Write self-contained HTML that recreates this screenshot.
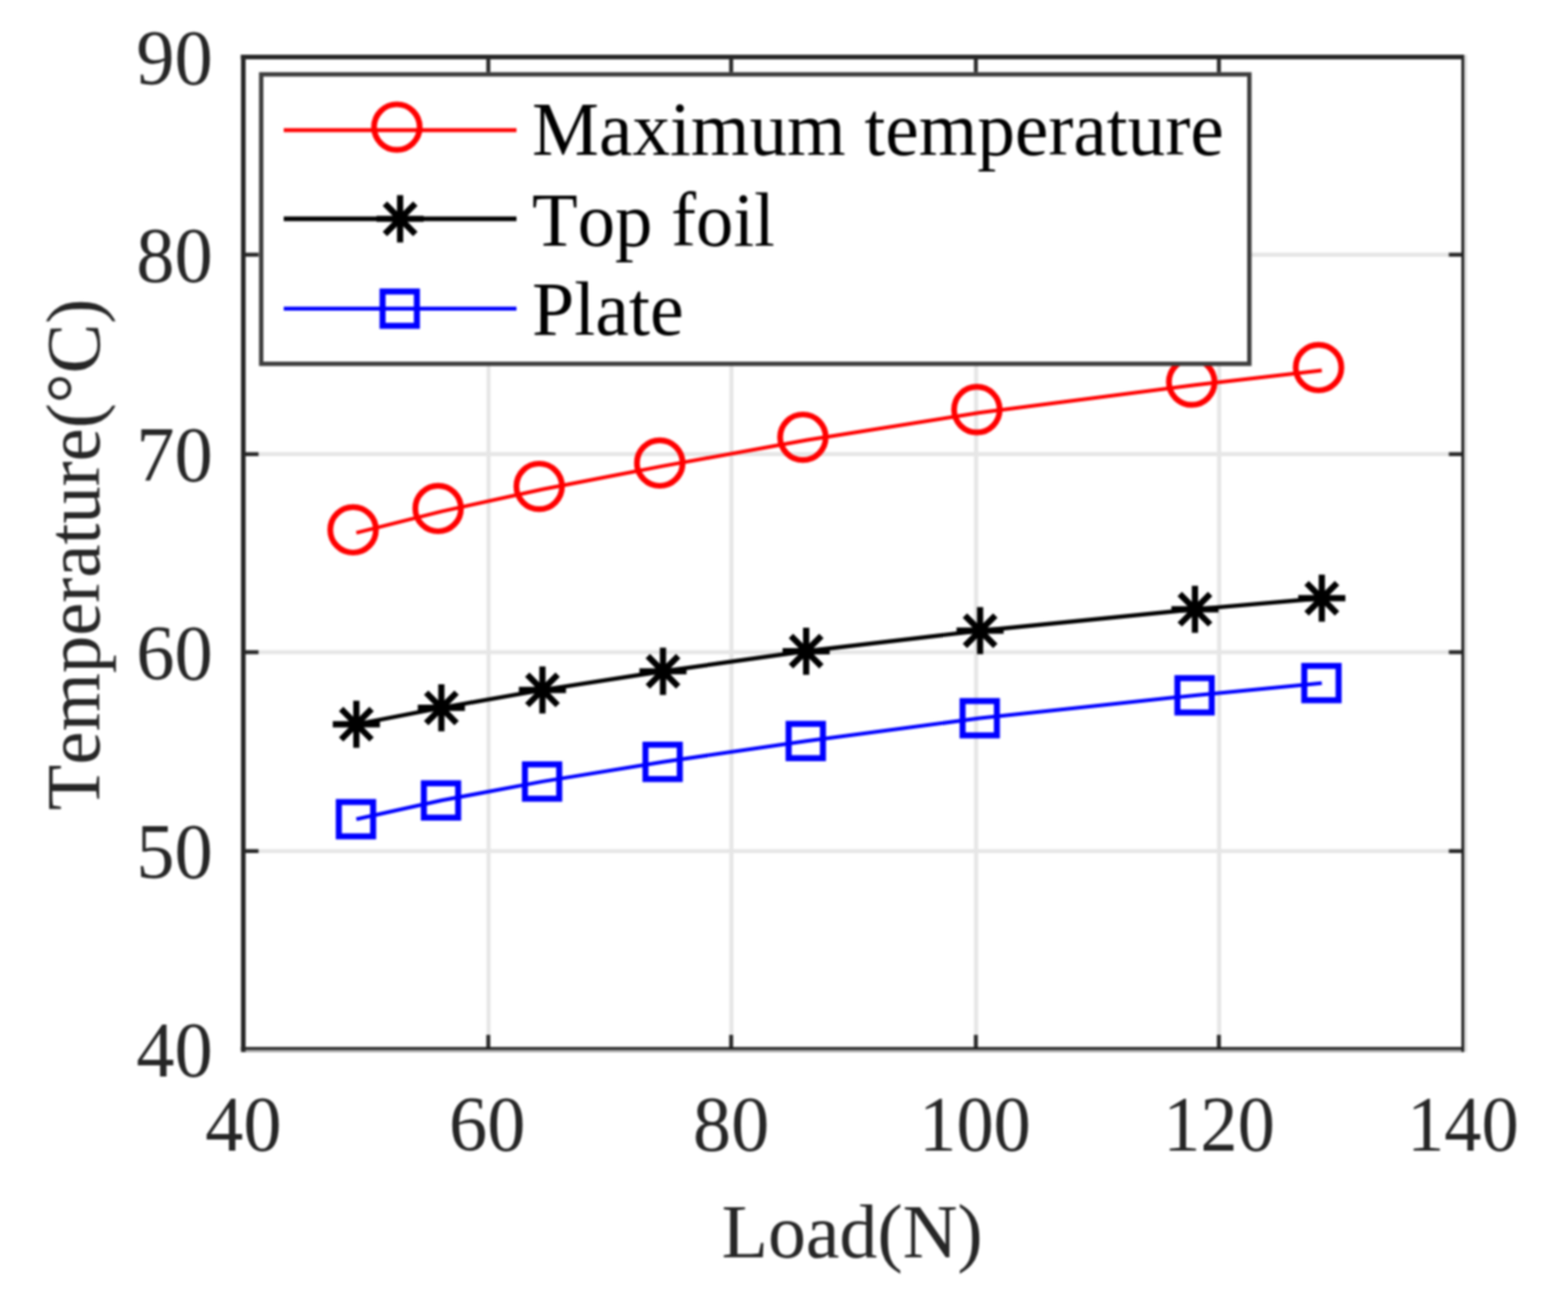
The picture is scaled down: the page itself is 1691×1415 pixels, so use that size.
<!DOCTYPE html>
<html lang="en">
<head>
<meta charset="utf-8">
<title>Temperature vs Load</title>
<style>
html,body{margin:0;padding:0;background:#fff;}
body{width:1691px;height:1415px;overflow:hidden;}
svg{display:block;filter:blur(0.8px);}
text{font-family:"Liberation Serif","Times New Roman",serif;font-kerning:none;font-variant-ligatures:none;}
.tk{font-size:83.6px;fill:#262626;}
.lb{font-size:83.5px;fill:#262626;}
.lg{font-size:82.5px;fill:#000;}
</style>
</head>
<body>
<svg role="img" aria-label="Temperature versus load chart" width="1691" height="1415" viewBox="0 0 1691 1415">
<rect x="0" y="0" width="1691" height="1415" fill="#ffffff"/>
<g stroke="#e6e6e6" stroke-width="4.4" fill="none">
<line x1="526.9" y1="61.45" x2="526.9" y2="1131.6"/>
<line x1="788.8" y1="61.45" x2="788.8" y2="1131.6"/>
<line x1="1052.7" y1="61.45" x2="1052.7" y2="1131.6"/>
<line x1="1314.8" y1="61.45" x2="1314.8" y2="1131.6"/>
<line x1="262.4" y1="917.9" x2="1577.6" y2="917.9"/>
<line x1="262.4" y1="703.4" x2="1577.6" y2="703.4"/>
<line x1="262.4" y1="489.8" x2="1577.6" y2="489.8"/>
<line x1="262.4" y1="274.7" x2="1577.6" y2="274.7"/>
</g>
<g stroke="#262626" stroke-width="4.2" fill="none">
<line x1="526.6" y1="1131.6" x2="526.6" y2="1116.1"/>
<line x1="526.6" y1="61.45" x2="526.6" y2="77.8"/>
<line x1="788.5" y1="1131.6" x2="788.5" y2="1116.1"/>
<line x1="788.5" y1="61.45" x2="788.5" y2="77.8"/>
<line x1="1052.4" y1="1131.6" x2="1052.4" y2="1116.1"/>
<line x1="1052.4" y1="61.45" x2="1052.4" y2="77.8"/>
<line x1="1314.5" y1="1131.6" x2="1314.5" y2="1116.1"/>
<line x1="1314.5" y1="61.45" x2="1314.5" y2="77.8"/>
<line x1="262.4" y1="917.9" x2="278.8" y2="917.9"/>
<line x1="1577.6" y1="917.9" x2="1562.5" y2="917.9"/>
<line x1="262.4" y1="703.4" x2="278.8" y2="703.4"/>
<line x1="1577.6" y1="703.4" x2="1562.5" y2="703.4"/>
<line x1="262.4" y1="489.8" x2="278.8" y2="489.8"/>
<line x1="1577.6" y1="489.8" x2="1562.5" y2="489.8"/>
<line x1="262.4" y1="274.7" x2="278.8" y2="274.7"/>
<line x1="1577.6" y1="274.7" x2="1562.5" y2="274.7"/>
</g>
<g fill="none" stroke="#262626">
<line x1="1580.4" y1="59.2" x2="1580.4" y2="1134.6" stroke="#d6d6d6" stroke-width="2.8"/>
<line x1="259.7" y1="1133.3" x2="1579.0" y2="1133.3" stroke="#a2a2a2" stroke-width="2.7"/>
<line x1="259.7" y1="1130.7" x2="1579.0" y2="1130.7" stroke="#1e1e1e" stroke-width="2.7"/>
<line x1="1577.5" y1="59.2" x2="1577.5" y2="1134.6" stroke="#222222" stroke-width="3.0"/>
<line x1="262.4" y1="59.2" x2="262.4" y2="1134.6" stroke-width="5.0"/>
<line x1="259.7" y1="61.45" x2="1579.0" y2="61.45" stroke-width="5.0"/>
</g>
<polyline points="384.3,574.6 476.0,551.6 585.0,527.8 715.0,502.6 869.4,474.8 1057.0,445.0 1288.7,415.3 1425.5,399.6" fill="none" stroke="#ff0000" stroke-width="4.0" stroke-linejoin="round"/>
<circle cx="380.8" cy="571.4" r="24.6" fill="none" stroke="#ff0000" stroke-width="6.2"/>
<circle cx="472.5" cy="548.4" r="24.6" fill="none" stroke="#ff0000" stroke-width="6.2"/>
<circle cx="581.5" cy="524.6" r="24.6" fill="none" stroke="#ff0000" stroke-width="6.2"/>
<circle cx="711.5" cy="499.4" r="24.6" fill="none" stroke="#ff0000" stroke-width="6.2"/>
<circle cx="865.9" cy="471.6" r="24.6" fill="none" stroke="#ff0000" stroke-width="6.2"/>
<circle cx="1053.5" cy="441.8" r="24.6" fill="none" stroke="#ff0000" stroke-width="6.2"/>
<circle cx="1285.2" cy="412.1" r="24.6" fill="none" stroke="#ff0000" stroke-width="6.2"/>
<circle cx="1422.0" cy="396.4" r="24.6" fill="none" stroke="#ff0000" stroke-width="6.2"/>
<polyline points="384.3,781.1 476.0,763.4 585.0,744.1 715.0,724.0 869.4,702.3 1057.0,680.2 1288.7,657.1 1425.5,645.2" fill="none" stroke="#000000" stroke-width="4.4" stroke-linejoin="round"/>
<path d="M358.9 781.1H409.7M384.3 755.7V806.5M367.9 764.7L400.7 797.5M367.9 797.5L400.7 764.7" fill="none" stroke="#000000" stroke-width="6.7"/>
<path d="M450.6 763.4H501.4M476.0 738.0V788.8M459.6 747.0L492.4 779.8M459.6 779.8L492.4 747.0" fill="none" stroke="#000000" stroke-width="6.7"/>
<path d="M559.6 744.1H610.4M585.0 718.7V769.5M568.6 727.7L601.4 760.5M568.6 760.5L601.4 727.7" fill="none" stroke="#000000" stroke-width="6.7"/>
<path d="M689.6 724.0H740.4M715.0 698.6V749.4M698.6 707.6L731.4 740.4M698.6 740.4L731.4 707.6" fill="none" stroke="#000000" stroke-width="6.7"/>
<path d="M844.0 702.3H894.8M869.4 676.9V727.7M853.0 685.9L885.8 718.7M853.0 718.7L885.8 685.9" fill="none" stroke="#000000" stroke-width="6.7"/>
<path d="M1031.6 680.2H1082.4M1057.0 654.8V705.6M1040.6 663.8L1073.4 696.6M1040.6 696.6L1073.4 663.8" fill="none" stroke="#000000" stroke-width="6.7"/>
<path d="M1263.3 657.1H1314.1M1288.7 631.7V682.5M1272.3 640.7L1305.1 673.5M1272.3 673.5L1305.1 640.7" fill="none" stroke="#000000" stroke-width="6.7"/>
<path d="M1400.1 645.2H1450.9M1425.5 619.8V670.6M1409.1 628.8L1441.9 661.6M1409.1 661.6L1441.9 628.8" fill="none" stroke="#000000" stroke-width="6.7"/>
<polyline points="384.3,883.5 476.0,863.3 585.0,842.9 715.0,821.7 869.4,799.2 1057.0,774.6 1288.7,749.9 1425.5,736.7" fill="none" stroke="#0000ff" stroke-width="4.0" stroke-linejoin="round"/>
<rect x="365.4" y="865.0" width="37.0" height="37.0" fill="none" stroke="#0000ff" stroke-width="6.5"/>
<rect x="457.1" y="844.8" width="37.0" height="37.0" fill="none" stroke="#0000ff" stroke-width="6.5"/>
<rect x="566.1" y="824.4" width="37.0" height="37.0" fill="none" stroke="#0000ff" stroke-width="6.5"/>
<rect x="696.1" y="803.2" width="37.0" height="37.0" fill="none" stroke="#0000ff" stroke-width="6.5"/>
<rect x="850.5" y="780.7" width="37.0" height="37.0" fill="none" stroke="#0000ff" stroke-width="6.5"/>
<rect x="1038.1" y="756.1" width="37.0" height="37.0" fill="none" stroke="#0000ff" stroke-width="6.5"/>
<rect x="1269.8" y="731.4" width="37.0" height="37.0" fill="none" stroke="#0000ff" stroke-width="6.5"/>
<rect x="1406.6" y="718.2" width="37.0" height="37.0" fill="none" stroke="#0000ff" stroke-width="6.5"/>
<rect x="281.7" y="80.2" width="1065.6499999999999" height="312.2" fill="#ffffff" stroke="#3c3c3c" stroke-width="4.7"/>
<line x1="306.0" y1="140.3" x2="557.0" y2="140.3" stroke="#ff0000" stroke-width="4.2"/>
<circle cx="428.0" cy="137.1" r="24.6" fill="none" stroke="#ff0000" stroke-width="6.2"/>
<text class="lg" transform="translate(573.8,166.8) scale(0.9837,1)">Maximum temperature</text>
<line x1="306.0" y1="236.0" x2="557.0" y2="236.0" stroke="#000000" stroke-width="5.0"/>
<path d="M406.1 236.0H456.9M431.5 210.6V261.4M415.1 219.6L447.9 252.4M415.1 252.4L447.9 219.6" fill="none" stroke="#000000" stroke-width="6.7"/>
<text class="lg" transform="translate(573.8,264.7) scale(0.977,1)">Top foil</text>
<line x1="306.0" y1="332.9" x2="557.0" y2="332.9" stroke="#0000ff" stroke-width="4.2"/>
<rect x="412.6" y="314.4" width="37.0" height="37.0" fill="none" stroke="#0000ff" stroke-width="6.5"/>
<text class="lg" transform="translate(573.8,361.0) scale(0.992,1)">Plate</text>
<text class="tk" text-anchor="end" transform="translate(229.3,1161.3) scale(0.985,1)">40</text>
<text class="tk" text-anchor="end" transform="translate(229.3,947.2) scale(0.985,1)">50</text>
<text class="tk" text-anchor="end" transform="translate(229.3,732.7) scale(0.985,1)">60</text>
<text class="tk" text-anchor="end" transform="translate(229.3,519.1) scale(0.985,1)">70</text>
<text class="tk" text-anchor="end" transform="translate(229.3,304.0) scale(0.985,1)">80</text>
<text class="tk" text-anchor="end" transform="translate(229.3,90.5) scale(0.985,1)">90</text>
<text class="tk" text-anchor="middle" transform="translate(262.4,1241.2) scale(0.985,1)">40</text>
<text class="tk" text-anchor="middle" transform="translate(525.4,1241.2) scale(0.985,1)">60</text>
<text class="tk" text-anchor="middle" transform="translate(788.5,1241.2) scale(0.985,1)">80</text>
<text class="tk" text-anchor="middle" transform="translate(1051.5,1241.2) scale(0.96,1)">100</text>
<text class="tk" text-anchor="middle" transform="translate(1314.6,1241.2) scale(0.96,1)">120</text>
<text class="tk" text-anchor="middle" transform="translate(1577.6,1241.2) scale(0.96,1)">140</text>
<text class="lb" text-anchor="middle" transform="translate(919.0,1356.0) scale(0.98,1)">Load(N)</text>
<text class="lb" text-anchor="middle" transform="translate(107.0,598.0) rotate(-90) scale(0.9664,1)">Temperature(°C)</text>
</svg>
</body>
</html>
